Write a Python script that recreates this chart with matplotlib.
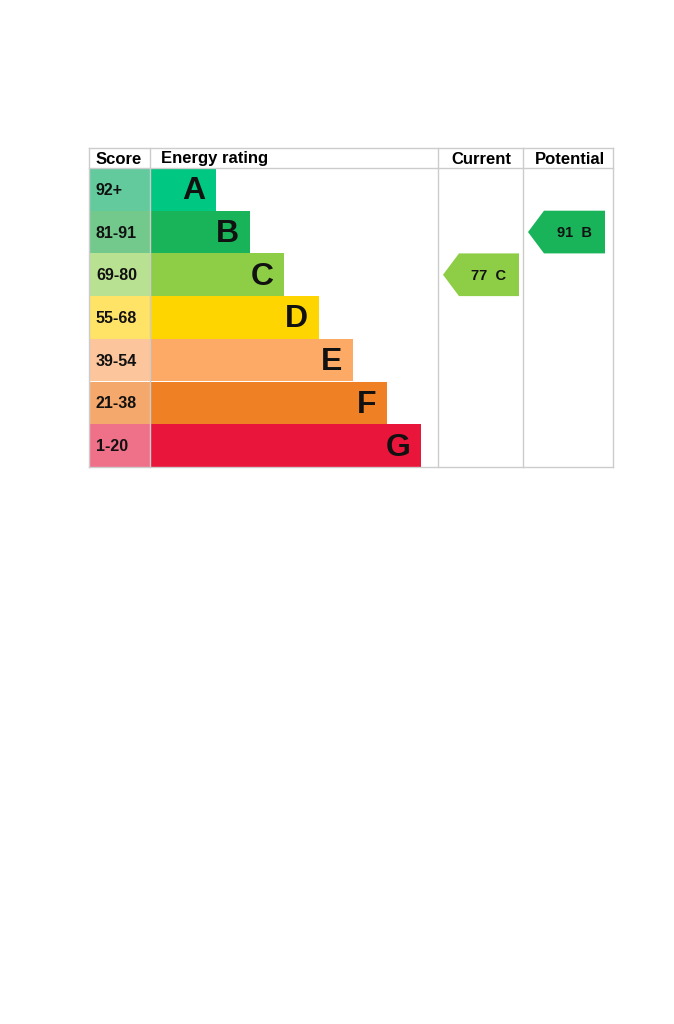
#!/usr/bin/env python
"""
Energy performance rating chart (EPC style).
"""

import matplotlib.pyplot as plt
from matplotlib.patches import Rectangle, Polygon

bands = ["A", "B", "C", "D", "E", "F", "G"]
score_ranges = ["92+", "81-91", "69-80", "55-68", "39-54", "21-38", "1-20"]
band_lows = [92, 81, 69, 55, 39, 21, 1]
band_colors = ["#00c781", "#19b459", "#8dce46", "#ffd500", "#fcaa65", "#ef8023", "#e9153b"]
score_colors = ["#63ca9e", "#73c98b", "#b8e191", "#ffe367", "#fcc59c", "#f4a86b", "#ef7189"]
current_score = 77
potential_score = 91
headers = ["Score", "Energy rating", "Current", "Potential"]


def band_index(score):
    for i, low in enumerate(band_lows):
        if score >= low:
            return i
    return len(bands) - 1


def main():
    fig = plt.figure(figsize=(6.74, 10.24), dpi=100)
    ax = fig.add_axes([0, 0, 1, 1])
    ax.set_xlim(0, 674)
    ax.set_ylim(1024, 0)
    ax.axis("off")

    font = "Liberation Sans"
    left, right = 89, 613
    top, head_bot = 148, 168
    row_h = 42.7
    col_x = [89, 150, 438, 523, 613]
    bar_x0, bar_w0, bar_step = 150, 66, 34.2
    grid = "#cccccc"
    bottom = head_bot + row_h * len(bands)

    # header and grid
    for y in (top, head_bot, bottom):
        ax.plot([left, right], [y, y], color=grid, lw=1)
    for x in col_x:
        ax.plot([x, x], [top, bottom], color=grid, lw=1)
    hx = [119, 161, 481, 570]
    ha = ["center", "left", "center", "center"]
    for t, x, a in zip(headers, hx, ha):
        ax.text(x, (top + head_bot) / 2 + 1, t, ha=a, va="center",
                fontsize=12, fontweight="bold", family=font)

    for i, (b, s, c) in enumerate(zip(bands, score_ranges, band_colors)):
        y0 = head_bot + i * row_h
        ym = y0 + row_h / 2
        ax.add_patch(Rectangle((col_x[0], y0), col_x[1] - col_x[0], row_h,
                               facecolor=score_colors[i], edgecolor="none"))
        ax.text(96, ym + 1, s, ha="left", va="center", fontsize=11.5,
                fontweight="bold", family=font, color="#111111")
        w = bar_w0 + i * bar_step
        ax.add_patch(Rectangle((bar_x0, y0), w, row_h, facecolor=c, edgecolor="none"))
        ax.text(bar_x0 + w - 11, ym + 2, b, ha="right", va="center",
                fontsize=23, fontweight="bold", family=font, color="#111111")

    def arrow(score, x0, x1):
        i = band_index(score)
        y0 = head_bot + i * row_h
        y1 = y0 + row_h
        ym = (y0 + y1) / 2
        pts = [(x0, ym), (x0 + 16, y0), (x1, y0), (x1, y1), (x0 + 16, y1)]
        ax.add_patch(Polygon(pts, closed=True, facecolor=band_colors[i], edgecolor="none"))
        ax.text(x1 - 13, ym + 1, f"{score}  {bands[i]}", ha="right", va="center",
                fontsize=10.5, fontweight="bold", family=font, color="#111111")

    arrow(current_score, 443, 519)
    arrow(potential_score, 528, 605)

    plt.savefig("out.png", dpi=100)


if __name__ == "__main__":
    main()
